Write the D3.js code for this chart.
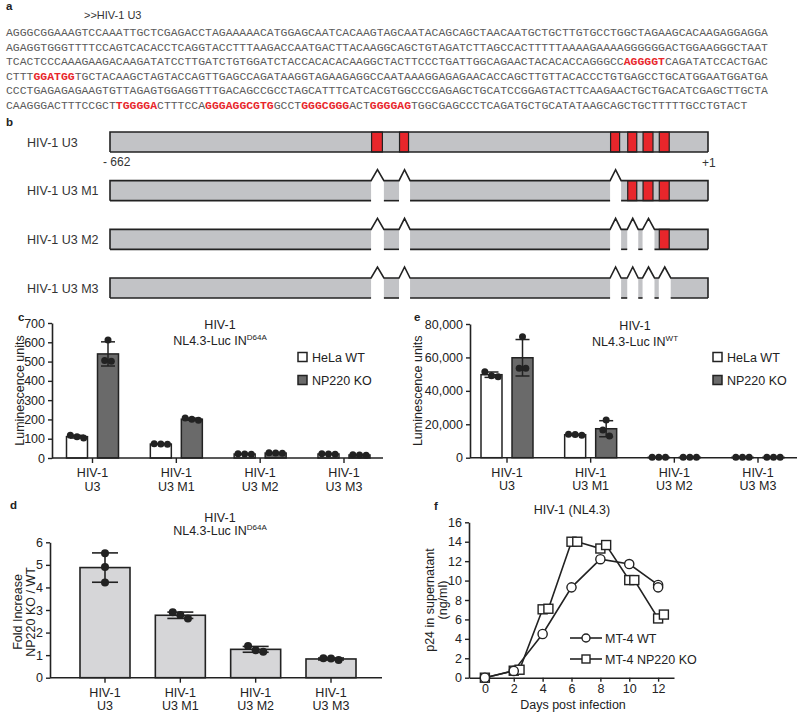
<!DOCTYPE html>
<html><head><meta charset="utf-8">
<script src="https://cdn.jsdelivr.net/npm/d3@7"></script>
<style>body{margin:0;background:#fff} svg{display:block} text{font-family:"Liberation Sans",Arial,sans-serif}</style>
</head><body><svg id="fig" width="800" height="715"></svg>
<script>
// ---------------- DATA ----------------
const seqTitle = ">>HIV-1 U3";
const seqRows = [
  "AGGGCGGAAAGTCCAAATTGCTCGAGACCTAGAAAAACATGGAGCAATCACAAGTAGCAATACAGCAGCTAACAATGCTGCTTGTGCCTGGCTAGAAGCACAAGAGGAGGA",
  "AGAGGTGGGTTTTCCAGTCACACCTCAGGTACCTTTAAGACCAATGACTTACAAGGCAGCTGTAGATCTTAGCCACTTTTTAAAAGAAAAGGGGGGACTGGAAGGGCTAAT",
  "TCACTCCCAAAGAAGACAAGATATCCTTGATCTGTGGATCTACCACACACAAGGCTACTTCCCTGATTGGCAGAACTACACACCAGGGCC[AGGGGT]CAGATATCCACTGAC",
  "CTTT[GGATGG]TGCTACAAGCTAGTACCAGTTGAGCCAGATAAGGTAGAAGAGGCCAATAAAGGAGAGAACACCAGCTTGTTACACCCTGTGAGCCTGCATGGAATGGATGA",
  "CCCTGAGAGAGAAGTGTTAGAGTGGAGGTTTGACAGCCGCCTAGCATTTCATCACGTGGCCCGAGAGCTGCATCCGGAGTACTTCAAGAACTGCTGACATCGAGCTTGCTA",
  "CAAGGGACTTTCCGCT[TGGGGA]CTTTCCA[GGGAGGCGTG]GCCT[GGGCGGG]ACT[GGGGAG]TGGCGAGCCCTCAGATGCTGCATATAAGCAGCTGCTTTTTGCCTGTACT"
];
// panel b (positions in bp index 0..663)
const u3Length = 663;
const motifBp = [[290,302],[321,331],[555,565],[574,584],[591,602],[609,620]];
const constructs = ["HIV-1 U3","HIV-1 U3 M1","HIV-1 U3 M2","HIV-1 U3 M3"];
const deletedMotifs = [[],[0,1,2],[0,1,2,3,4],[0,1,2,3,4,5]];
const bpLabels = ["- 662","+1"];

// panels c/d/e
const groupLabels = [["HIV-1","U3"],["HIV-1","U3 M1"],["HIV-1","U3 M2"],["HIV-1","U3 M3"]];
const seriesNames = ["HeLa WT","NP220 KO"];
const cTicks = [0,100,200,300,400,500,600,700];
const cWT = [[118,104,110],[74,71,72],[22,19,21],[21,19,22]];
const cKO = [[612,505,502],[207,196,201],[27,24,26],[17,14,16]];
const eTicks = [0,20000,40000,60000,80000];
const eWT = [[51500,48500,49000],[14000,13400,13900],[250,200,300],[220,260,240]];
const eKO = [[72400,53500,53500],[22500,13000,16500],[200,300,250],[260,210,240]];
const dTicks = [0,1,2,3,4,5,6];
const dFold = [[5.52,4.9,4.22],[2.9,2.62,2.78],[1.4,1.15,1.22],[0.86,0.78,0.85]];

// panel f
const fTicksX = [0,2,4,6,8,10,12];
const fTicksY = [0,2,4,6,8,10,12,14,16];
const fDaysWT = [0,2,4,6,8,10,12,12];
const fWT = [0,0.7,4.5,9.3,12.2,11.7,9.55,9.3];
const fDaysKO = [0,2,2.4,4,4.4,6,6.4,8,8.4,10,10.35,12,12.4];
const fKO = [0,0.72,0.82,7.04,7.1,14.0,14.0,13.3,13.66,10.05,10.05,6.1,6.5];
const fSeries = ["MT-4 WT","MT-4 NP220 KO"];

// ---------------- DRAW ----------------
const svg = d3.select('#fig');
const INK = '#222';
const RED = '#e8262b';

function label(x,y,t){
  svg.append('text').attr('x',x).attr('y',y).attr('font-size',11.5).attr('font-weight','bold').attr('fill',INK).text(t);
}

// ---- Panel a ----
label(6,10,'a');
svg.append('text').attr('x',84).attr('y',19).attr('font-size',11).attr('fill','#333').text(seqTitle);
const seqY = d3.scaleLinear().domain([0,5]).range([36,109]);
seqRows.forEach((row,i)=>{
  const parts = row.split(/(\[[^\]]+\])/).filter(s=>s.length);
  const t = svg.append('text').attr('x',6).attr('y',seqY(i))
    .attr('font-size',11.45).attr('fill','#5a5a5a').style('font-family','"Liberation Mono", "DejaVu Sans Mono", monospace');
  parts.forEach(p=>{
    const hl = p.startsWith('[');
    t.append('tspan').text(hl?p.slice(1,-1):p)
      .attr('fill',hl?RED:'#5a5a5a').attr('font-weight',hl?'bold':null);
  });
});

// ---- Panel b ----
label(6,126,'b');
const xb = d3.scaleLinear().domain([0,u3Length]).range([110,708]);
const yb = d3.scalePoint().domain(constructs).range([132,278]);
const barH = 20, GRAY='#c2c3c6';
constructs.forEach((name,i)=>{
  const g = svg.append('g');
  const y0 = yb(name), y1 = y0+barH;
  const gaps = deletedMotifs[i].map(k=>[xb(motifBp[k][0])-0.5, xb(motifBp[k][1])+1.5]);
  const kept = []; let cur = xb(0);
  gaps.forEach(([a,b])=>{kept.push([cur,a]); cur=b;});
  kept.push([cur,xb(u3Length)]);
  g.selectAll('rect.k').data(kept).join('rect').attr('class','k')
    .attr('x',d=>d[0]).attr('y',y0).attr('width',d=>d[1]-d[0]).attr('height',barH).attr('fill',GRAY);
  const keptMotifs = motifBp.filter((m,k)=>!deletedMotifs[i].includes(k));
  g.selectAll('rect.m').data(keptMotifs).join('rect').attr('class','m')
    .attr('x',d=>xb(d[0])).attr('y',y0).attr('width',d=>xb(d[1])-xb(d[0])).attr('height',barH)
    .attr('fill',RED).attr('stroke',INK).attr('stroke-width',1.2);
  g.selectAll('line.b').data(kept).join('line').attr('class','b')
    .attr('x1',d=>d[0]).attr('x2',d=>d[1]).attr('y1',y1).attr('y2',y1)
    .attr('stroke',INK).attr('stroke-width',1.6);
  let p = `M${xb(0)},${y1}L${xb(0)},${y0}`;
  gaps.forEach(([a,b])=>{ p += `L${a},${y0}L${(a+b)/2},${y0-11}L${b},${y0}`; });
  p += `L${xb(u3Length)},${y0}L${xb(u3Length)},${y1}`;
  g.append('path').attr('d',p).attr('fill','none').attr('stroke',INK).attr('stroke-width',1.6).attr('stroke-linejoin','miter');
  svg.append('text').attr('x',27).attr('y',y0+barH/2+4.5).attr('font-size',12.5).attr('fill','#333').text(name);
});
svg.append('text').attr('x',xb(0)-7).attr('y',yb(constructs[0])+barH+14).attr('font-size',12).attr('fill','#333').text(bpLabels[0]);
svg.append('text').attr('x',xb(u3Length)-6).attr('y',yb(constructs[0])+barH+15).attr('font-size',12).attr('fill','#333').text(bpLabels[1]);

// ---- helpers for bar charts ----
function mean(a){return d3.mean(a);}
function sd(a){return d3.deviation(a);}
function swarm(vals, y, cx, r){
  const pts = vals.map((v,i)=>({i,py:y(v)})).sort((a,b)=>a.py-b.py);
  const clusters=[];
  pts.forEach(p=>{const c=clusters[clusters.length-1];
    if(c && p.py-c[c.length-1].py < 2*r) c.push(p); else clusters.push([p]);});
  const out=[];
  clusters.forEach(c=>c.forEach((p,j)=>{out[p.i]=[cx+(j-(c.length-1)/2)*2*r*0.95,p.py];}));
  return out;
}
function yAxis(g, y, ticks, fmt, x){
  const ax = g.append('g').attr('transform',`translate(${x},0)`)
    .call(d3.axisLeft(y).tickValues(ticks).tickFormat(fmt).tickSize(4).tickSizeOuter(0).tickPadding(3));
  ax.select('.domain').attr('stroke',INK).attr('stroke-width',1.6);
  ax.selectAll('.tick line').attr('stroke',INK).attr('stroke-width',1.4);
  ax.selectAll('.tick text').attr('font-size',12.5).attr('fill',INK).attr('font-family','"Liberation Sans", Arial, sans-serif');
  return ax;
}
function xGroupAxis(g, xs, yPos, xStart, xEnd){
  g.append('line').attr('x1',xStart).attr('x2',xEnd).attr('y1',yPos).attr('y2',yPos).attr('stroke',INK).attr('stroke-width',1.6);
  g.selectAll(null).data(groupLabels).join('line')
    .attr('x1',(d,i)=>xs(i)).attr('x2',(d,i)=>xs(i)).attr('y1',yPos).attr('y2',yPos+5)
    .attr('stroke',INK).attr('stroke-width',1.4);
  const t = g.selectAll(null).data(groupLabels).join('text')
    .attr('x',(d,i)=>xs(i)).attr('y',yPos+19).attr('text-anchor','middle').attr('font-size',12.5).attr('fill',INK);
  t.append('tspan').attr('x',(d,i)=>xs(i)).text(d=>d[0]);
  t.append('tspan').attr('x',(d,i)=>xs(i)).attr('dy',13.5).text(d=>d[1]);
}
function title(g, cx, y, sup, gap){
  g.append('text').attr('x',cx).attr('y',y).attr('text-anchor','middle').attr('font-size',12.5).attr('fill',INK).text('HIV-1');
  const t = g.append('text').attr('x',cx).attr('y',y+gap).attr('text-anchor','middle').attr('font-size',12.5).attr('fill',INK);
  t.append('tspan').text('NL4.3-Luc IN');
  t.append('tspan').attr('font-size',8).attr('dy',-5).text(sup);
}
function yTitle(g, x, cy, lines){
  const t = g.append('text').attr('transform',`translate(${x},${cy}) rotate(-90)`).attr('text-anchor','middle').attr('font-size',12.5).attr('fill',INK);
  lines.forEach((l,i)=>t.append('tspan').attr('x',0).attr('dy',i?12.5:0).text(l));
}
function legendBoxes(g, x, y0, dy){
  seriesNames.forEach((n,i)=>{
    g.append('rect').attr('x',x).attr('y',y0+i*dy-4.5).attr('width',9).attr('height',9)
      .attr('fill',i?'#6a6a6a':'#fff').attr('stroke',INK).attr('stroke-width',1.5);
    g.append('text').attr('x',x+14).attr('y',y0+i*dy+4.5).attr('font-size',12.5).attr('fill',INK).text(n);
  });
}

function groupedChart(cfg){
  const g = svg.append('g');
  const y = d3.scaleLinear().domain([0,cfg.ticks[cfg.ticks.length-1]]).range([cfg.yBot,cfg.yTop]);
  const xs = d3.scalePoint().domain(d3.range(groupLabels.length)).range(cfg.centers);
  const inner = d3.scaleBand().domain([0,1]).range([-26,26]).paddingInner(0.323);
  const data = [];
  groupLabels.forEach((gl,i)=>[cfg.wt[i],cfg.ko[i]].forEach((vals,s)=>data.push({i,s,vals})));
  g.selectAll('rect.bar').data(data).join('rect').attr('class','bar')
    .attr('x',d=>xs(d.i)+inner(d.s)).attr('width',inner.bandwidth())
    .attr('y',d=>y(mean(d.vals))).attr('height',d=>y(0)-y(mean(d.vals)))
    .attr('fill',d=>d.s?'#6a6a6a':'#fff').attr('stroke',INK).attr('stroke-width',1.5);
  data.forEach(d=>{
    const cx = xs(d.i)+inner(d.s)+inner.bandwidth()/2;
    const m=mean(d.vals), s=sd(d.vals);
    g.append('line').attr('x1',cx).attr('x2',cx).attr('y1',y(m-s)).attr('y2',y(m+s)).attr('stroke',INK).attr('stroke-width',1.5);
    [m-s,m+s].forEach(v=>g.append('line').attr('x1',cx-7).attr('x2',cx+7).attr('y1',y(v)).attr('y2',y(v)).attr('stroke',INK).attr('stroke-width',1.5));
    swarm(d.vals,y,cx,3.5).forEach(p=>g.append('circle').attr('cx',p[0]).attr('cy',p[1]).attr('r',3.5).attr('fill',INK));
  });
  yAxis(g,y,cfg.ticks,cfg.fmt,cfg.axisX);
  xGroupAxis(g,xs,cfg.yBot,cfg.axisX,cfg.axisEnd);
  title(g,cfg.titleX,cfg.titleY,cfg.sup,16);
  yTitle(g,cfg.ylabX,(cfg.yTop+cfg.yBot)/2,["Luminescence units"]);
  legendBoxes(g,cfg.legX,cfg.legY,23);
}

// ---- Panel c ----
label(18,321,'c');
groupedChart({ticks:cTicks,fmt:d3.format('d'),wt:cWT,ko:cKO,yTop:323,yBot:458,centers:[92.5,344],
  axisX:52,axisEnd:383,titleX:220,titleY:329,sup:'D64A',ylabX:24,legX:298,legY:357});
// ---- Panel e ----
label(414,321,'e');
groupedChart({ticks:eTicks,fmt:d3.format(','),wt:eWT,ko:eKO,yTop:324,yBot:457.7,centers:[507,758],
  axisX:470,axisEnd:797,titleX:635,titleY:330,sup:'WT',ylabX:422,legX:713,legY:357});

// ---- Panel d ----
label(10,509,'d');
(function(){
  const g = svg.append('g');
  const y = d3.scaleLinear().domain([0,6]).range([677.7,542.3]);
  const xs = d3.scalePoint().domain(d3.range(groupLabels.length)).range([105,331]);
  const bw = 50;
  g.selectAll('rect').data(dFold).join('rect')
    .attr('x',(d,i)=>xs(i)-bw/2).attr('width',bw).attr('y',d=>y(mean(d))).attr('height',d=>y(0)-y(mean(d)))
    .attr('fill','#d6d6d8').attr('stroke',INK).attr('stroke-width',1.6);
  dFold.forEach((vals,i)=>{
    const cx=xs(i), m=mean(vals), s=sd(vals);
    g.append('line').attr('x1',cx).attr('x2',cx).attr('y1',y(m-s)).attr('y2',y(m+s)).attr('stroke',INK).attr('stroke-width',1.6);
    [m-s,m+s].forEach(v=>g.append('line').attr('x1',cx-13).attr('x2',cx+13).attr('y1',y(v)).attr('y2',y(v)).attr('stroke',INK).attr('stroke-width',1.6));
    swarm(vals,y,cx,4).forEach(p=>g.append('circle').attr('cx',p[0]).attr('cy',p[1]).attr('r',4).attr('fill',INK));
  });
  yAxis(g,y,dTicks,d3.format('d'),50);
  xGroupAxis(g,xs,677.7,50,382);
  title(g,220,522,'D64A',13);
  yTitle(g,22,612,["Fold Increase","NP220 KO / WT"]);
})();

// ---- Panel f ----
label(434,510,'f');
(function(){
  const g = svg.append('g');
  const x = d3.scaleLinear().domain([-1.1,13.1]).range([469,674]);
  const y = d3.scaleLinear().domain([0,16]).range([677.7,522.3]);
  const ax = g.append('g').attr('transform',`translate(0,${y(0)})`)
    .call(d3.axisBottom(x).tickValues(fTicksX).tickSize(4).tickSizeOuter(0).tickPadding(2));
  ax.select('.domain').attr('stroke',INK).attr('stroke-width',1.6);
  ax.selectAll('.tick line').attr('stroke',INK).attr('stroke-width',1.4);
  ax.selectAll('.tick text').attr('font-size',12.5).attr('fill',INK).attr('font-family','"Liberation Sans", Arial, sans-serif');
  yAxis(g,y,fTicksY,d3.format('d'),469);
  const line = d3.line().x(d=>x(d[0])).y(d=>y(d[1]));
  const ko = fDaysKO.map((d,i)=>[d,fKO[i]]);
  const wt = fDaysWT.map((d,i)=>[d,fWT[i]]);
  g.append('path').attr('d',line(ko)).attr('fill','none').attr('stroke',INK).attr('stroke-width',1.6);
  g.append('path').attr('d',line(wt)).attr('fill','none').attr('stroke',INK).attr('stroke-width',1.6);
  g.selectAll('rect.sq').data(ko).join('rect').attr('class','sq')
    .attr('x',d=>x(d[0])-4.5).attr('y',d=>y(d[1])-4.5).attr('width',9).attr('height',9)
    .attr('fill','#fff').attr('stroke',INK).attr('stroke-width',1.4);
  g.selectAll('circle.ci').data(wt).join('circle').attr('class','ci')
    .attr('cx',d=>x(d[0])).attr('cy',d=>y(d[1])).attr('r',4.6)
    .attr('fill','#fff').attr('stroke',INK).attr('stroke-width',1.4);
  g.append('text').attr('x',572).attr('y',514).attr('text-anchor','middle').attr('font-size',12.5).attr('fill',INK).text('HIV-1 (NL4.3)');
  g.append('text').attr('x',573).attr('y',709).attr('text-anchor','middle').attr('font-size',12.5).attr('fill',INK).text('Days post infection');
  yTitle(g,434,600,["p24 in supernatant","(ng/ml)"]);
  // legend
  fSeries.forEach((n,i)=>{
    const ly = 638+i*21;
    g.append('line').attr('x1',570).attr('x2',602).attr('y1',ly).attr('y2',ly).attr('stroke',INK).attr('stroke-width',1.6);
    if(i===0) g.append('circle').attr('cx',586).attr('cy',ly).attr('r',4).attr('fill','#fff').attr('stroke',INK).attr('stroke-width',1.4);
    else g.append('rect').attr('x',582).attr('y',ly-4).attr('width',8).attr('height',8).attr('fill','#fff').attr('stroke',INK).attr('stroke-width',1.4);
    g.append('text').attr('x',605).attr('y',ly+4.5).attr('font-size',12.5).attr('fill',INK).text(n);
  });
})();
</script></body></html>
